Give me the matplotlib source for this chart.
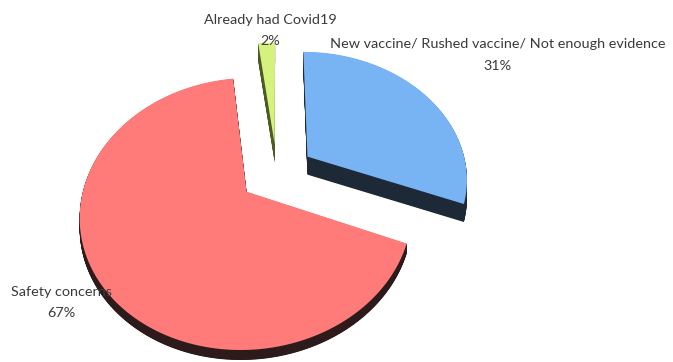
import numpy as np
import matplotlib
matplotlib.use("Agg")
import matplotlib.pyplot as plt
from matplotlib.patches import Polygon

# Data (clockwise from 12 o'clock)
categories = ["New vaccine/ Rushed vaccine/ Not enough evidence", "Safety concerns", "Already had Covid19"]
values = [31, 67, 2]
colors = ["#78B3F4", "#FF7B79", "#D5F27E"]
side_colors = ["#1e2937", "#2d1b1b", "#4d5a22"]
thickness = [18, 10, 18]

W, H = 673, 362
fig = plt.figure(figsize=(W / 100, H / 100), dpi=100)
ax = fig.add_axes([0, 0, 1, 1])
ax.set_xlim(0, W)
ax.set_ylim(H, 0)
ax.axis('off')

R, s, k = 160, 0.79, 0.16
cx, cy = 277, 173
explode = 0.235


def proj(u, v):
    d = 1 + k * v
    return cx + R * u / d, cy - R * s * v / d


total = sum(values)
slices = []
cum = 0.0
for val, col, scol, th in zip(values, colors, side_colors, thickness):
    t2 = 90 - cum * 360 / total
    t1 = t2 - val * 360 / total
    cum += val
    mid = np.radians((t1 + t2) / 2)
    eu, ev = explode * np.cos(mid), explode * np.sin(mid)
    ts = np.radians(np.linspace(t2, t1, 200))
    us = np.concatenate([[eu], eu + np.cos(ts)])
    vs = np.concatenate([[ev], ev + np.sin(ts)])
    xs, ys = proj(us, vs)
    slices.append((ev, np.column_stack([xs, ys]), col, scol, th))

for ev, pts, col, scol, th in sorted(slices, key=lambda z: -z[0]):
    for dy in np.linspace(th, 0.5, 30):
        ax.add_patch(Polygon(pts + np.array([0, dy]), closed=True, facecolor=scol,
                             edgecolor='none', antialiased=True))
    ax.add_patch(Polygon(pts, closed=True, facecolor=col, edgecolor='none'))

font = dict(family=['Lato', 'DejaVu Sans'], fontsize=10.4, color='#3a3a3a')
pct = [f"{round(v / total * 100)}%" for v in values]
label_pos = [(498, 44, 66), (61, 292, 313), (270, 20, 41)]
for cat, p, (lx, ly1, ly2) in zip(categories, pct, label_pos):
    ax.text(lx, ly1, cat, ha='center', va='center', **font)
    ax.text(lx, ly2, p, ha='center', va='center', **font)

fig.savefig("out.png", dpi=100)
